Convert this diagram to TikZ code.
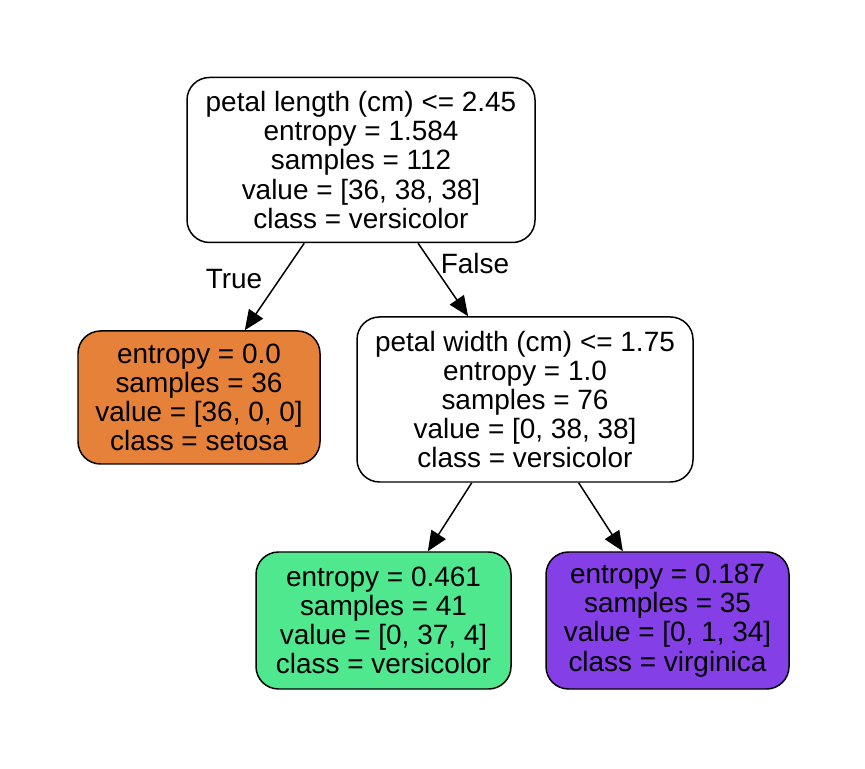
\documentclass[tikz,border=0pt]{standalone}
\usepackage{fontspec}
\setmainfont{Liberation Sans}
\usetikzlibrary{arrows.meta, positioning}
\definecolor{setosacol}{HTML}{E58139}
\definecolor{versicol}{HTML}{4FE88F}
\definecolor{virgicol}{HTML}{853FE6}
\begin{document}
\begin{tikzpicture}[
    leaf/.style={draw, line width=0.85pt, rounded corners=0.45cm, align=center, inner sep=0pt,
        font=\fontsize{15.9pt}{16.6pt}\selectfont},
    lbl/.style={font=\fontsize{15.9pt}{16.6pt}\selectfont},
    >={Triangle[length=0.4cm, width=0.34cm]}
]
    \useasboundingbox (0, 0) rectangle (17.3, 15.36);
    \node[leaf, minimum width=6.96cm, minimum height=3.3cm] (root) at (7.22, 12.16)
        {petal length (cm) <= 2.45\\entropy = 1.584\\samples = 112\\value = [36, 38, 38]\\class = versicolor};
    \node[leaf, fill=setosacol, minimum width=4.84cm, minimum height=2.66cm] (setosa) at (3.98, 7.41)
        {entropy = 0.0\\samples = 36\\value = [36, 0, 0]\\class = setosa};
    \node[leaf, minimum width=6.72cm, minimum height=3.3cm] (width) at (10.5, 7.37)
        {petal width (cm) <= 1.75\\entropy = 1.0\\samples = 76\\value = [0, 38, 38]\\class = versicolor};
    \node[leaf, fill=versicol, minimum width=5.1cm, minimum height=2.74cm] (versi) at (7.67, 2.95)
        {entropy = 0.461\\samples = 41\\value = [0, 37, 4]\\class = versicolor};
    \node[leaf, fill=virgicol, minimum width=4.86cm, minimum height=2.74cm] (virgi) at (13.35, 2.95)
        {entropy = 0.187\\samples = 35\\value = [0, 1, 34]\\class = virginica};
    \node[lbl] (true) at (4.68, 9.78) {True};
    \node[lbl] (false) at (9.5, 10.08) {False};
    \draw[line width=0.85pt]
    (root) edge[->] (setosa)
    (root) edge[->] (width)
    (width) edge[->] (versi)
    (width) edge[->] (virgi);
\end{tikzpicture}
\end{document}
